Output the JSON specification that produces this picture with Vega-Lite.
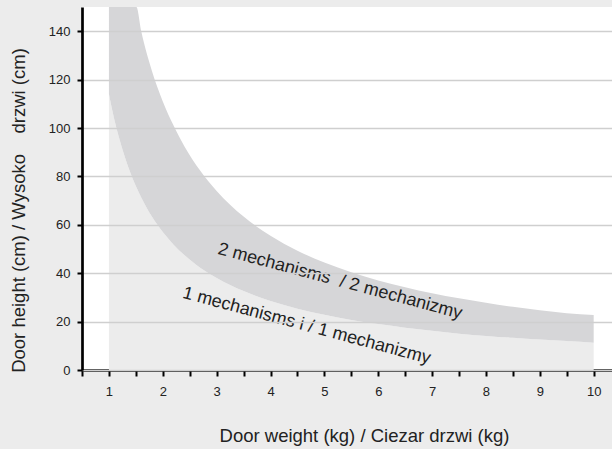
{
  "$schema": "https://vega.github.io/schema/vega-lite/v6.json",
  "autosize": {"type": "none"},
  "padding": {"left": 82, "top": 7, "right": 0, "bottom": 79},
  "width": 530,
  "height": 363,
  "background": "#ececec",
  "config": {
    "view": {"fill": "white", "stroke": null},
    "font": "Liberation Sans"
  },
  "datasets": {
    "curves": [
      {"weight": 1.0, "lo": 114, "hi": 150},
      {"weight": 1.1, "lo": 103.5, "hi": 150},
      {"weight": 1.2, "lo": 95, "hi": 150},
      {"weight": 1.3, "lo": 87.7, "hi": 150},
      {"weight": 1.4, "lo": 81.4, "hi": 150},
      {"weight": 1.51, "lo": 75.5, "hi": 150},
      {"weight": 1.6, "lo": 71.3, "hi": 140},
      {"weight": 1.8, "lo": 63.3, "hi": 123.5},
      {"weight": 2.0, "lo": 57, "hi": 111},
      {"weight": 2.2, "lo": 51.8, "hi": 101},
      {"weight": 2.4, "lo": 47.5, "hi": 92.5},
      {"weight": 2.7, "lo": 42.2, "hi": 82.2},
      {"weight": 3.0, "lo": 38, "hi": 74},
      {"weight": 3.5, "lo": 32.6, "hi": 63.4},
      {"weight": 4.0, "lo": 28.5, "hi": 55.5},
      {"weight": 4.5, "lo": 25.3, "hi": 49.3},
      {"weight": 5.0, "lo": 22.8, "hi": 44.4},
      {"weight": 5.5, "lo": 20.7, "hi": 40.4},
      {"weight": 6.0, "lo": 19, "hi": 37},
      {"weight": 6.5, "lo": 17.5, "hi": 34.2},
      {"weight": 7.0, "lo": 16.2, "hi": 31.7},
      {"weight": 7.5, "lo": 15, "hi": 29.6},
      {"weight": 8.0, "lo": 14.1, "hi": 27.8},
      {"weight": 8.5, "lo": 13.3, "hi": 26.1},
      {"weight": 9.0, "lo": 12.6, "hi": 24.7},
      {"weight": 9.5, "lo": 12, "hi": 23.5},
      {"weight": 10.0, "lo": 11.3, "hi": 22.7}
    ],
    "labels": [
      {"weight": 5.29, "height": 36.6, "label": "2 mechanisms\u00a0 / 2 mechanizmy"},
      {"weight": 4.67, "height": 18.2, "label": "1 mechanisms i / 1 mechanizmy"}
    ]
  },
  "layer": [
    {
      "data": {"name": "curves"},
      "mark": {"type": "area", "color": "#ececec", "interpolate": "monotone"},
      "encoding": {
        "x": {
          "field": "weight", "type": "quantitative",
          "scale": {"domain": [0.5, 10.34], "nice": false, "zero": false},
          "axis": {
            "values": [0.5, 1, 1.5, 2, 2.5, 3, 3.5, 4, 4.5, 5, 5.5, 6, 6.5, 7, 7.5, 8, 8.5, 9, 9.5, 10],
            "tickCount": 40,
            "labelExpr": "datum.value % 1 == 0 ? format(datum.value, 'd') : ''",
            "labelOverlap": false,
            "labelFlush": false,
            "grid": false,
            "domainColor": "black", "domainWidth": 2.6,
            "tickColor": "black", "tickWidth": 2, "tickSize": 6,
            "labelFontSize": 13, "labelColor": "#222", "labelPadding": 9,
            "labelFont": "Liberation Sans",
            "title": "Door weight (kg) / Ciezar drzwi (kg)",
            "titleFont": "Liberation Sans",
            "titleFontSize": 18.5, "titleFontWeight": "normal", "titleColor": "#222",
            "titleAnchor": null,
            "titleAlign": "center", "titleBaseline": "alphabetic",
            "titleX": 282, "titleY": 71
          }
        },
        "y": {
          "field": "lo", "type": "quantitative",
          "scale": {"domain": [0, 150], "nice": false},
          "axis": {
            "values": [0, 20, 40, 60, 80, 100, 120, 140],
            "tickCount": 20,
            "grid": true, "gridColor": "#cfcfcf", "gridWidth": 1.3,
            "zindex": 1,
            "labelOverlap": false,
            "labelFlush": false,
            "domainColor": "black", "domainWidth": 2.7,
            "tickColor": "black", "tickWidth": 2, "tickSize": 5,
            "labelFontSize": 13, "labelColor": "#222", "labelPadding": 7,
            "labelFont": "Liberation Sans",
            "title": "Door height (cm) / Wysoko\u00a0\u00a0\u00a0\u00a0drzwi (cm)",
            "titleFont": "Liberation Sans",
            "titleFontSize": 18.5, "titleFontWeight": "normal", "titleColor": "#222",
            "titleAnchor": null,
            "titleAlign": "center", "titleBaseline": "alphabetic", "titleAngle": -90,
            "titleX": -58, "titleY": 203
          }
        },
        "y2": {"datum": 0}
      }
    },
    {
      "data": {"name": "curves"},
      "mark": {"type": "area", "color": "#d6d6d8", "interpolate": "monotone"},
      "encoding": {
        "x": {"field": "weight", "type": "quantitative"},
        "y": {"field": "hi", "type": "quantitative"},
        "y2": {"field": "lo"}
      }
    },
    {
      "data": {"name": "labels"},
      "mark": {"type": "text", "angle": 15, "fontSize": 18, "color": "#222", "align": "center", "baseline": "middle", "font": "Liberation Sans"},
      "encoding": {
        "x": {"field": "weight", "type": "quantitative"},
        "y": {"field": "height", "type": "quantitative"},
        "text": {"field": "label"}
      }
    }
  ]
}
